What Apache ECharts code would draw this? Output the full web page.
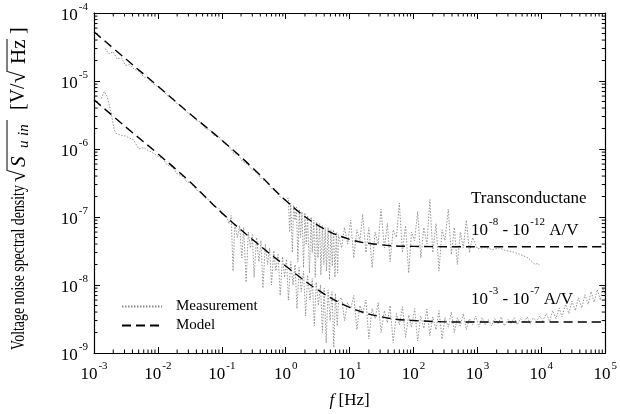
<!DOCTYPE html>
<html>
<head>
<meta charset="utf-8">
<script src="https://cdn.jsdelivr.net/npm/echarts@6/dist/echarts.min.js"></script>
<style>
  html, body { margin: 0; padding: 0; background: #fff; }
  #chart { width: 620px; height: 414px; }
</style>
</head>
<body>
<div id="chart"></div>
<script>
// frequency [Hz] vs. noise amplitude [V/sqrt(Hz)]
const upperModel = [
  [1e-3, 5.3e-5], [3.16e-3, 2.1e-5], [1e-2, 8.4e-6], [3.16e-2, 3.3e-6],
  [0.1, 1.35e-6], [0.316, 5.1e-7], [1, 1.75e-7], [3.16, 7.6e-8],
  [10, 4.7e-8], [31.6, 3.9e-8], [100, 3.7e-8], [1e3, 3.65e-8],
  [1e4, 3.65e-8], [1e5, 3.65e-8],
];
const lowerModel = [
  [1e-3, 5.3e-6], [3.16e-3, 2.1e-6], [1e-2, 8.5e-7], [3.16e-2, 3.3e-7],
  [0.1, 1.15e-7], [0.316, 4.5e-8], [1, 1.9e-8], [3.16, 8.5e-9],
  [10, 4.7e-9], [31.6, 3.4e-9], [100, 3.0e-9], [1e3, 2.85e-9],
  [1e4, 2.85e-9], [1e5, 2.85e-9],
];
const upperMeasured = [
  [1.5e-3, 3.0e-5], [1.7e-3, 2.5e-5], [2.0e-3, 2.7e-5], [2.3e-3, 2.1e-5],
  [2.7e-3, 2.2e-5], [3.1e-3, 1.7e-5], [3.6e-3, 1.75e-5], [4.2e-3, 1.5e-5],
  [5e-3, 1.4e-5], [6e-3, 1.15e-5], [7e-3, 1.1e-5], [8e-3, 9.5e-6],
  [1e-2, 8.2e-6], [1.2e-2, 7.4e-6], [1.4e-2, 6.1e-6], [1.7e-2, 5.6e-6],
  [2e-2, 4.6e-6], [2.4e-2, 4.2e-6], [2.8e-2, 3.5e-6], [3.3e-2, 3.2e-6],
  [4e-2, 2.6e-6], [4.7e-2, 2.5e-6], [5.5e-2, 2.0e-6], [6.5e-2, 1.9e-6],
  [7.7e-2, 1.55e-6], [9e-2, 1.5e-6], [0.11, 1.2e-6], [0.13, 1.1e-6],
  [0.15, 8.8e-7], [0.18, 8.2e-7], [0.21, 6.6e-7], [0.25, 6.0e-7],
  [0.3, 4.9e-7], [0.35, 4.5e-7], [0.42, 3.6e-7], [0.5, 3.3e-7],
  [0.6, 2.6e-7], [0.7, 2.4e-7], [0.8, 2.0e-7], [0.9, 1.9e-7],
  [1.0, 1.8e-7], [1.1, 1.9e-7], [1.15, 6e-8], [1.2, 1.6e-7],
  [1.27, 3e-8], [1.33, 1.5e-7], [1.4, 9e-8], [1.47, 1.4e-7],
  [1.55, 2.2e-8], [1.63, 1.3e-7], [1.7, 5e-8], [1.8, 1.2e-7],
  [1.9, 1.8e-8], [2.0, 1.15e-7], [2.1, 4e-8], [2.2, 1.05e-7],
  [2.35, 1.5e-8], [2.5, 1.0e-7], [2.6, 3e-8], [2.75, 9e-8],
  [2.9, 1.3e-8], [3.05, 8.5e-8], [3.2, 2.5e-8], [3.4, 8e-8],
  [3.55, 1.4e-8], [3.75, 7.5e-8], [3.95, 2e-8], [4.15, 7e-8],
  [4.35, 1.6e-8], [4.6, 7e-8], [4.85, 1.2e-8], [5.1, 6.5e-8],
  [5.35, 1.9e-8], [5.6, 6.5e-8], [5.9, 1.3e-8], [6.2, 6e-8],
  [6.5, 1.5e-8], [6.7, 5.5e-8], [7.5, 3.5e-8], [8.3, 7e-8],
  [9.3, 4e-8], [10.4, 9e-8], [11.6, 2.5e-8], [13, 6.5e-8],
  [14.5, 4.5e-8], [16, 1.1e-7], [18, 3e-8], [20, 7e-8],
  [22.5, 1.8e-8], [25, 6e-8], [28, 4e-8], [31, 1.3e-7],
  [35, 3.5e-8], [39, 8e-8], [43, 2.2e-8], [48, 6.5e-8],
  [54, 5e-8], [60, 1.6e-7], [67, 3e-8], [75, 7.5e-8],
  [84, 1.5e-8], [93, 6e-8], [104, 4.5e-8], [116, 1.2e-7],
  [130, 2.5e-8], [145, 7e-8], [162, 4e-8], [180, 1.8e-7],
  [200, 3e-8], [225, 8e-8], [250, 1.6e-8], [280, 6.5e-8],
  [310, 4.5e-8], [350, 1.3e-7], [390, 2.8e-8], [435, 7e-8],
  [485, 2e-8], [540, 6e-8], [600, 3.5e-8], [670, 9e-8],
  [750, 3e-8], [840, 5e-8], [1000, 3.4e-8], [1300, 3.6e-8],
  [1700, 3.3e-8], [2200, 3.5e-8], [2800, 3.2e-8], [3500, 3.1e-8],
  [4300, 2.9e-8], [5200, 2.7e-8], [6200, 2.5e-8], [7200, 2.2e-8],
  [8000, 2.0e-8], [8800, 2.1e-8], [9500, 1.9e-8],
];
const lowerMeasured = [
  [1.3e-3, 5.5e-6], [1.45e-3, 7.0e-6], [1.6e-3, 6.0e-6], [1.75e-3, 4.2e-6],
  [1.9e-3, 3.0e-6], [2.05e-3, 2.0e-6], [2.2e-3, 1.7e-6], [2.6e-3, 1.6e-6],
  [3.1e-3, 1.55e-6], [3.6e-3, 1.45e-6], [4.2e-3, 1.35e-6], [5e-3, 1.0e-6],
  [6e-3, 1.05e-6], [7e-3, 9.5e-7], [8e-3, 9e-7], [1e-2, 7.8e-7],
  [1.2e-2, 7.2e-7], [1.4e-2, 5.8e-7], [1.7e-2, 5.4e-7], [2e-2, 4.3e-7],
  [2.4e-2, 4.0e-7], [2.8e-2, 3.3e-7], [3.3e-2, 3.2e-7], [4e-2, 2.5e-7],
  [4.7e-2, 2.3e-7], [5.5e-2, 1.9e-7], [6.5e-2, 1.75e-7], [7.7e-2, 1.4e-7],
  [9e-2, 1.35e-7], [0.1, 1.1e-7], [0.12, 1.0e-7], [0.13, 8e-8],
  [0.14, 1.05e-7], [0.15, 1.6e-8], [0.16, 8e-8], [0.175, 5e-8],
  [0.19, 7.5e-8], [0.205, 2.5e-8], [0.22, 7e-8], [0.24, 1.1e-8],
  [0.26, 6e-8], [0.28, 3.5e-8], [0.3, 5.5e-8], [0.32, 1.3e-8],
  [0.35, 5e-8], [0.38, 2.2e-8], [0.41, 4.5e-8], [0.44, 9e-9],
  [0.48, 4e-8], [0.52, 2e-8], [0.56, 3.5e-8], [0.6, 1.0e-8],
  [0.65, 3.2e-8], [0.7, 1.6e-8], [0.76, 2.8e-8], [0.82, 7e-9],
  [0.89, 2.6e-8], [0.96, 1.3e-8], [1.03, 2.4e-8], [1.1, 6e-9],
  [1.2, 2.2e-8], [1.3, 1.0e-8], [1.4, 2.0e-8], [1.5, 4.5e-9],
  [1.62, 1.8e-8], [1.75, 8e-9], [1.9, 1.6e-8], [2.05, 3.5e-9],
  [2.2, 1.4e-8], [2.4, 6e-9], [2.6, 1.25e-8], [2.8, 2.5e-9],
  [3.0, 1.1e-8], [3.25, 5e-9], [3.5, 1.0e-8], [3.75, 2e-9],
  [4.0, 9e-9], [4.3, 1.4e-9], [4.6, 8.5e-9], [4.95, 3e-9],
  [5.3, 8e-9], [5.65, 1.2e-9], [6.0, 7.5e-9], [6.4, 2.5e-9],
  [6.7, 6e-9], [7.5, 6.5e-9], [8.3, 3e-9], [9.3, 5.5e-9],
  [10.4, 4.5e-9], [11.6, 7e-9], [13, 2.2e-9], [14.5, 5e-9],
  [16, 3.8e-9], [18, 6e-9], [20, 1.6e-9], [22.5, 4.5e-9],
  [25, 3.2e-9], [28, 5.5e-9], [31, 2e-9], [35, 4.2e-9],
  [39, 2.8e-9], [43, 5e-9], [48, 1.4e-9], [54, 3.8e-9],
  [60, 2.6e-9], [67, 4.8e-9], [75, 1.7e-9], [84, 3.6e-9],
  [93, 2.4e-9], [104, 4.5e-9], [116, 1.5e-9], [130, 3.5e-9],
  [145, 2.3e-9], [162, 4.4e-9], [180, 1.8e-9], [200, 3.4e-9],
  [225, 2.2e-9], [250, 4.2e-9], [280, 1.6e-9], [310, 3.3e-9],
  [350, 2.4e-9], [390, 4e-9], [435, 2e-9], [485, 3.3e-9],
  [540, 2.5e-9], [600, 3.8e-9], [670, 2.2e-9], [750, 3.2e-9],
  [840, 2.6e-9], [940, 3.5e-9], [1050, 2.4e-9], [1180, 3.3e-9],
  [1320, 2.6e-9], [1480, 3.1e-9], [1660, 2.5e-9], [1860, 3.2e-9],
  [2100, 2.7e-9], [2350, 3.4e-9], [2650, 2.5e-9], [3000, 3.1e-9],
  [3350, 2.7e-9], [3750, 3.3e-9], [4200, 2.6e-9], [4700, 3.2e-9],
  [5300, 2.8e-9], [6000, 3.4e-9], [6700, 2.7e-9], [7500, 3.3e-9],
  [8400, 2.9e-9], [9400, 3.5e-9], [1.05e4, 3.0e-9], [1.2e4, 3.8e-9],
  [1.35e4, 2.9e-9], [1.5e4, 4.2e-9], [1.7e4, 3.2e-9], [1.9e4, 4.6e-9],
  [2.1e4, 3.4e-9], [2.4e4, 5.2e-9], [2.7e4, 3.8e-9], [3e4, 5.8e-9],
  [3.4e4, 4.2e-9], [3.8e4, 6.5e-9], [4.3e4, 4.6e-9], [4.8e4, 7.2e-9],
  [5.4e4, 5.2e-9], [6e4, 8e-9], [6.7e4, 5.6e-9], [7.5e4, 8.6e-9],
  [8.4e4, 6e-9], [9.2e4, 9e-9], [1e5, 7e-9],
];

const xRange = [1e-3, 1e5];
const yRange = [1e-9, 1e-4];
// minor log ticks inside every decade
const minorSteps = [2, 3, 4, 5, 6, 7, 8, 9];

const SERIF = "'Liberation Serif', 'DejaVu Serif', serif";
const FONT = "17px " + SERIF;

// "10" with a raised exponent
const powRich = {
  b: { fontFamily: SERIF, fontSize: 17, color: "#000", lineHeight: 22, verticalAlign: "bottom" },
  s: { fontFamily: SERIF, fontSize: 11, color: "#000", lineHeight: 22, verticalAlign: "top", padding: [0, 0, 0, 1] },
};
function powLabel(v) {
  const e = Math.round(Math.log10(v));
  return "{b|10}{s|" + e + "}";
}

function minorTicks(range) {
  const out = [];
  const lo = Math.round(Math.log10(range[0]));
  const hi = Math.round(Math.log10(range[1]));
  for (let e = lo; e < hi; e++) {
    minorSteps.forEach((m) => out.push(m * Math.pow(10, e)));
  }
  return out;
}

const chart = echarts.init(document.getElementById("chart"), null, { renderer: "canvas" });

const frame = { show: true, lineStyle: { color: "#000", width: 1.2 } };
const ticks = { show: true, inside: true, length: 6, lineStyle: { color: "#000", width: 1 } };

function logAxis(range, pos, withLabels) {
  return {
    type: "log",
    logBase: 10,
    min: range[0],
    max: range[1],
    interval: 1,
    position: pos,
    axisLine: frame,
    axisTick: ticks,
    splitLine: { show: false },
    axisLabel: withLabels
      ? { show: true, formatter: powLabel, rich: powRich, margin: pos === "left" ? 6 : 8 }
      : { show: false },
  };
}

const xBottom = logAxis(xRange, "bottom", true);
xBottom.name = "{i|f} [Hz]";
xBottom.nameLocation = "middle";
xBottom.nameGap = 39;
xBottom.nameTextStyle = {
  fontFamily: SERIF, fontSize: 17, color: "#000",
  rich: { i: { fontFamily: SERIF, fontSize: 17, fontStyle: "italic", color: "#000" } },
};

const measuredStyle = { color: "#8a8a8a", width: 0.9, type: [1.5, 1.5] };
const modelStyle = { color: "#000", width: 1.4, type: [9, 5] };

// short inward ticks on both opposite sides of the frame
function tickRenderer(isX) {
  return function (params, api) {
    const cs = params.coordSys;
    const p = api.coord([api.value(0), api.value(1)]);
    const st = { stroke: "#000", lineWidth: 1 };
    const n = 3.5;
    const lines = isX
      ? [[p[0], cs.y + cs.height, p[0], cs.y + cs.height - n], [p[0], cs.y, p[0], cs.y + n]]
      : [[cs.x, p[1], cs.x + n, p[1]], [cs.x + cs.width, p[1], cs.x + cs.width - n, p[1]]];
    return {
      type: "group",
      children: lines.map((l) => ({ type: "line", shape: { x1: l[0], y1: l[1], x2: l[2], y2: l[3] }, style: st })),
    };
  };
}

const serif = (size, extra) => (extra ? extra + " " : "") + size + "px " + SERIF;
const ytxt = (text, x, y, font) => ({ type: "text", style: { text: text, x: x, y: y, font: font, fill: "#000", verticalAlign: "middle" } });

chart.setOption({
  animation: false,
  backgroundColor: "#fff",
  grid: { left: 94, right: 9, top: 13, bottom: 60, containLabel: false },
  xAxis: [xBottom, logAxis(xRange, "top", false)],
  yAxis: [logAxis(yRange, "left", true), logAxis(yRange, "right", false)],
  legend: {
    orient: "vertical",
    left: 116,
    top: 294,
    itemWidth: 40,
    itemHeight: 12,
    itemGap: 4,
    data: ["Measurement", "Model"],
    itemStyle: { color: "rgba(0,0,0,0)", borderColor: "rgba(0,0,0,0)", borderWidth: 0 },
    textStyle: { fontFamily: SERIF, fontSize: 15, color: "#000", padding: [0, 0, 0, 9] },
  },
  series: [
    {
      name: "Measurement", type: "line", data: upperMeasured,
      symbol: "none", lineStyle: measuredStyle, itemStyle: { color: "#8a8a8a" },
    },
    {
      name: "Measurement", type: "line", data: lowerMeasured,
      symbol: "none", lineStyle: measuredStyle, itemStyle: { color: "#8a8a8a" },
    },
    {
      name: "Model", type: "line", data: upperModel, smooth: 0.4,
      symbol: "none", lineStyle: modelStyle, itemStyle: { color: "#000" }, z: 3,
    },
    {
      name: "Model", type: "line", data: lowerModel, smooth: 0.4,
      symbol: "none", lineStyle: modelStyle, itemStyle: { color: "#000" }, z: 3,
    },
    {
      name: "xMinor", type: "custom", silent: true, clip: false, z: 4,
      renderItem: tickRenderer(true),
      data: minorTicks(xRange).map((v) => [v, yRange[0]]),
    },
    {
      name: "yMinor", type: "custom", silent: true, clip: false, z: 4,
      renderItem: tickRenderer(false),
      data: minorTicks(yRange).map((v) => [xRange[0], v]),
    },
  ],
  graphic: [
    // y axis title, rotated to read bottom to top
    {
      type: "group", x: 19, y: 350, rotation: Math.PI / 2, scaleX: 0.77,
      children: [ytxt("Voltage noise spectral density", 0, 0, serif(18))],
    },
    {
      type: "group", x: 19, y: 180, rotation: Math.PI / 2,
      children: [
        ytxt("\u221a", -2, 0, serif(22)),
        ytxt("S", 13, 0, serif(21, "italic")),
        ytxt("u", 32, 5, serif(15, "italic")),
        ytxt("in", 44, 5, serif(15, "italic")),
        { type: "line", shape: { x1: 9, y1: -12, x2: 60, y2: -12 }, style: { stroke: "#000", lineWidth: 1 } },
        ytxt("[V/", 70, 0, serif(20)),
        ytxt("\u221a", 97, 0, serif(22)),
        ytxt("Hz", 116, 0, serif(21)),
        { type: "line", shape: { x1: 108, y1: -12, x2: 141, y2: -12 }, style: { stroke: "#000", lineWidth: 1 } },
        ytxt("]", 146, 0, serif(20)),
      ],
    },
    // annotations on the right
    { type: "text", left: 471, top: 190, style: { text: "Transconductane", font: FONT, fill: "#000" } },
    { type: "text", left: 471, top: 217, style: { text: "{b|10}{s|-8}{b| - 10}{s|-12}{b| A/V}", rich: powRich } },
    { type: "text", left: 471, top: 286, style: { text: "{b|10}{s|-3}{b| - 10}{s|-7}{b| A/V}", rich: powRich } },
  ],
});
</script>
</body>
</html>
